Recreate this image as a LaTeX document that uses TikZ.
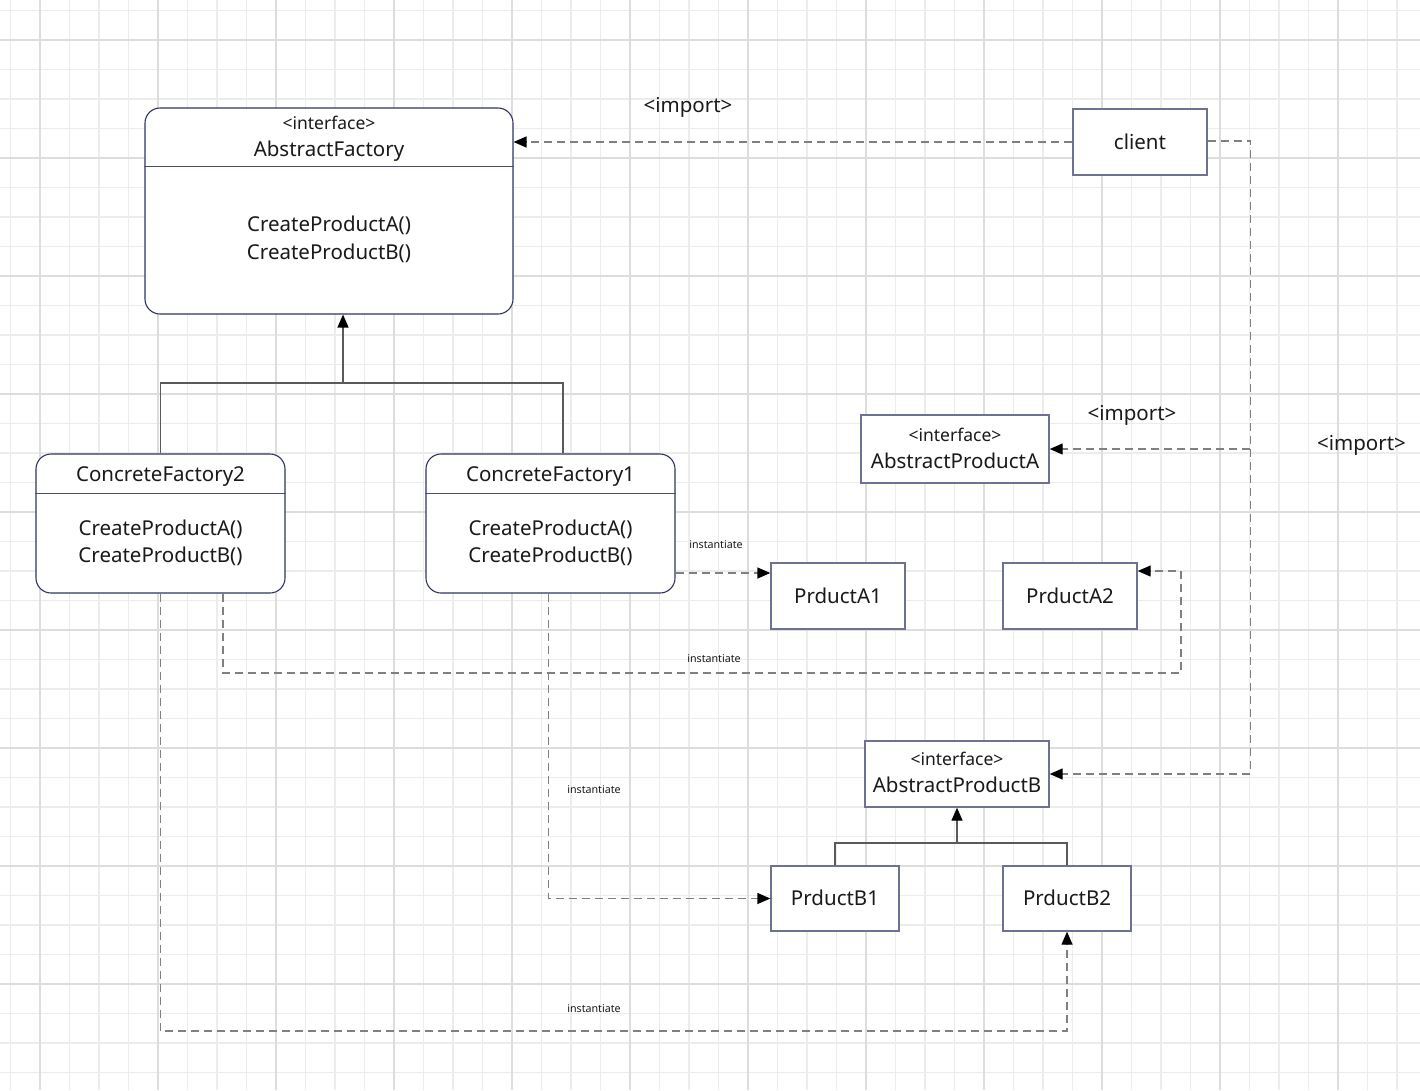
\documentclass[tikz,border=0pt]{standalone}
\usepackage{fontspec}
\setmainfont{Noto Sans}
\usetikzlibrary{arrows.meta,calc}
\definecolor{gridminor}{HTML}{ECECEC}
\definecolor{gridmajor}{HTML}{DDDDDD}
\definecolor{navy}{HTML}{2F3560}
\definecolor{sepc}{HTML}{4A4F75}
\definecolor{boxline}{HTML}{6E7290}
\definecolor{dashc}{HTML}{808080}
\definecolor{solidc}{HTML}{5A5A5A}
\definecolor{txt}{HTML}{1A1A1A}
\begin{document}
\begin{tikzpicture}[x=1pt,y=-1pt,
  ubox/.style={draw=navy, line width=1.1pt, rounded corners=15pt, fill=white, inner sep=0pt},
  pbox/.style={draw=boxline, line width=1.4pt, fill=white, inner sep=0pt},
  lbl/.style={text=txt, inner sep=0pt, anchor=base, font=\fontsize{20.5}{24}\selectfont},
  slbl/.style={lbl, font=\fontsize{17.5}{20}\selectfont},
  tlbl/.style={lbl, font=\fontsize{10.7}{12}\selectfont},
  sepline/.style={draw=sepc, line width=0.9pt},
  dep/.style={draw=dashc, line width=1.4pt, dash pattern=on 8pt off 5pt, -{Triangle[length=13pt,width=11pt,color=black]}},
  inh/.style={draw=solidc, line width=1.4pt},
  inharrow/.style={inh, -{Triangle[length=13pt,width=11pt,color=black]}}
]
\useasboundingbox (0,0) rectangle (1420,1090);
\fill[white] (0,0) rectangle (1420,1090);
% grid
\foreach \k in {0,...,48} {
  \pgfmathsetmacro\gx{10.5+29.5*\k}
  \draw[gridminor, line width=1.1pt] (\gx,0) -- (\gx,1090);
}
\foreach \k in {0,...,36} {
  \pgfmathsetmacro\gy{10.5+29.5*\k}
  \draw[gridminor, line width=1.1pt] (0,\gy) -- (1420,\gy);
}
\foreach \k in {0,...,11} {
  \pgfmathsetmacro\gx{40+118*\k}
  \draw[gridmajor, line width=1.3pt] (\gx,0) -- (\gx,1090);
}
\foreach \k in {0,...,8} {
  \pgfmathsetmacro\gy{40+118*\k}
  \draw[gridmajor, line width=1.3pt] (0,\gy) -- (1420,\gy);
}

% boxes
\node[ubox, minimum width=368pt, minimum height=206pt] (af) at (329,211) {};
\coordinate (afsep) at (0,166);
\draw[sepline] (af.west |- afsep) -- (af.east |- afsep);
\node[slbl] (afst) at (329,129) {<interface>};
\node[lbl] (afname) at (329,156) {AbstractFactory};
\node[lbl] (afop1) at (329,231) {CreateProductA()};
\node[lbl] (afop2) at (329,259) {CreateProductB()};

\node[ubox, minimum width=249pt, minimum height=139pt] (cf2) at (160.5,523.5) {};
\node[ubox, minimum width=249pt, minimum height=139pt] (cf1) at (550.5,523.5) {};
\coordinate (cfsep) at (0,493);
\draw[sepline] (cf2.west |- cfsep) -- (cf2.east |- cfsep);
\draw[sepline] (cf1.west |- cfsep) -- (cf1.east |- cfsep);
\node[lbl] (cf2name) at (160.5,481) {ConcreteFactory2};
\node[lbl] (cf2op1) at (160.5,535.7) {CreateProductA()};
\node[lbl] (cf2op2) at (160.5,562.7) {CreateProductB()};
\node[lbl] (cf1name) at (550.5,481) {ConcreteFactory1};
\node[lbl] (cf1op1) at (550.5,535.7) {CreateProductA()};
\node[lbl] (cf1op2) at (550.5,562.7) {CreateProductB()};

\node[pbox, minimum width=134pt, minimum height=66pt] (client) at (1140,142) {};
\node[lbl] (clientt) at (1140,149.3) {client};

\node[pbox, minimum width=188pt, minimum height=68pt] (apa) at (955,449) {};
\node[slbl] (apast) at (955,441.7) {<interface>};
\node[lbl] (apaname) at (955,468) {AbstractProductA};

\node[pbox, minimum width=134pt, minimum height=66pt] (pa1) at (838,596) {};
\node[lbl] (pa1t) at (838,603.3) {PrductA1};
\node[pbox, minimum width=134pt, minimum height=66pt] (pa2) at (1070,596) {};
\node[lbl] (pa2t) at (1070,603.3) {PrductA2};

\node[pbox, minimum width=184pt, minimum height=66pt] (apb) at (957,774) {};
\node[slbl] (apbst) at (957,765) {<interface>};
\node[lbl] (apbname) at (957,792.3) {AbstractProductB};

\node[pbox, minimum width=128pt, minimum height=65pt] (pb1) at (835,898.5) {};
\node[lbl] (pb1t) at (835,905.7) {PrductB1};
\node[pbox, minimum width=128pt, minimum height=65pt] (pb2) at (1067,898.5) {};
\node[lbl] (pb2t) at (1067,905.7) {PrductB2};

% import connectors
\draw[dep] (client.west) -- (af.east |- client.west);
\coordinate (cout) at ([yshift=1pt]client.east);
\coordinate (cbend) at (1250.5,141);
\draw[dep] (cout) -- (cbend) |- (apa.east);
\draw[dep] (cout) -- (cbend) |- (apb.east);

% inheritance factories
\coordinate (jf) at (343,383);
\draw[inh] (cf2.north) |- (jf) -| ([xshift=12.5pt]cf1.north);
\draw[inharrow] (jf) -- (jf |- af.south);

% inheritance products B
\coordinate (jb) at (957,843);
\draw[inh] (pb1.north) |- (jb) -| (pb2.north);
\draw[inharrow] (jb) -- (apb.south);

% instantiate connectors
\coordinate (pa1in) at ([yshift=23pt]pa1.west);
\draw[dep] (cf1.east |- pa1in) -- (pa1in);

\coordinate (c2a) at ([xshift=62.5pt]cf2.south);
\coordinate (pa2in) at ([yshift=25pt]pa2.east);
\coordinate (r2) at (1181,673);
\draw[dep] (c2a) |- (r2) |- (pa2in);

\coordinate (c1b) at ([xshift=-2pt]cf1.south);
\draw[dep] (c1b) |- (pb1.west);

\coordinate (b2) at (160.5,1031);
\draw[dep] (cf2.south) -- (b2) -| (pb2.south);

% labels
\node[lbl] (imp1) at (688,112) {<import>};
\node[lbl] (imp2) at (1132,420.7) {<import>};
\node[lbl] (imp3) at (1361.5,450) {<import>};
\node[tlbl] (inst1) at (716,548.7) {instantiate};
\node[tlbl] (inst2) at (714,662) {instantiate};
\node[tlbl] (inst3) at (594,793.3) {instantiate};
\node[tlbl] (inst4) at (594,1012) {instantiate};
\end{tikzpicture}
\end{document}
